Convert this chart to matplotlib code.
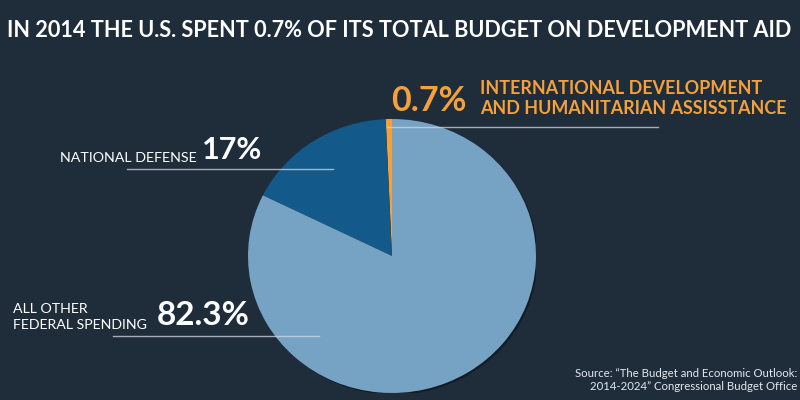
import matplotlib
matplotlib.use("Agg")
import matplotlib.pyplot as plt
from matplotlib.patches import Ellipse

# ---- data ----
categories = ["INTERNATIONAL DEVELOPMENT\nAND HUMANITARIAN ASSISSTANCE",
              "NATIONAL DEFENSE",
              "ALL OTHER\nFEDERAL SPENDING"]
shares = [0.7, 17.0, 82.3]
pct_labels = ["0.7%", "17%", "82.3%"]
title = "IN 2014 THE U.S. SPENT 0.7% OF ITS TOTAL BUDGET ON DEVELOPMENT AID"
source = "Source: \u201cThe Budget and Economic Outlook:\n2014-2024\u201d Congressional Budget Office"

BG = "#1f2d3b"
colors = ["#f5a03a", "#135a8a", "#76a3c4"]
ORANGE = "#f5a03a"
FONT = ["Lato", "DejaVu Sans"]

fig = plt.figure(figsize=(8, 4), dpi=100, facecolor=BG)

# pie axes (slightly elliptical as in reference)
pax = fig.add_axes([248/800, 7/400, 288/800, 274/400])
pax.set_facecolor("none")
pax.add_patch(Ellipse((0.012, -0.012), 2.0, 2.0, facecolor="#131c25",
                      edgecolor="none", zorder=0))
pax.pie(shares, colors=colors, startangle=90, counterclock=True,
        radius=1.0, wedgeprops=dict(linewidth=0, zorder=1))
pax.set_aspect("auto")
pax.set_xlim(-1, 1)
pax.set_ylim(-1, 1)
pax.axis("off")

# overlay axes in pixel coordinates
ax = fig.add_axes([0, 0, 1, 1])
ax.set_facecolor("none")
ax.set_xlim(0, 800)
ax.set_ylim(400, 0)
ax.axis("off")

ax.text(399, 37, title, color="white", fontsize=15.6, fontweight="bold",
        family=FONT, ha="center", va="baseline")

line_kw = dict(color="#d0d7de", alpha=0.75, linewidth=1.0, zorder=5)

# international development
ax.plot([387, 658], [127, 127], **line_kw)
ax.text(391, 111, pct_labels[0], color=ORANGE, fontsize=24.5, fontweight="bold",
        family=FONT, ha="left", va="baseline")
l1, l2 = categories[0].split("\n")
ax.text(480, 94.5, l1, color=ORANGE, fontsize=12.9, fontweight="bold",
        family=FONT, ha="left", va="baseline")
ax.text(480, 113.5, l2, color=ORANGE, fontsize=12.9, fontweight="bold",
        family=FONT, ha="left", va="baseline")

# national defense
ax.plot([127, 333], [169, 169], **line_kw)
ax.text(197, 162, categories[1], color="white", fontsize=10.3,
        family=FONT, ha="right", va="baseline")
ax.text(202, 159, pct_labels[1], color="white", fontsize=22, fontweight="bold",
        family=FONT, ha="left", va="baseline")

# all other
ax.plot([113, 319], [336, 336], **line_kw)
o1, o2 = categories[2].split("\n")
ax.text(13, 313, o1, color="white", fontsize=10.2, family=FONT,
        ha="left", va="baseline")
ax.text(13, 329, o2, color="white", fontsize=10.2, family=FONT,
        ha="left", va="baseline")
ax.text(157, 325, pct_labels[2], color="white", fontsize=24, fontweight="bold",
        family=FONT, ha="left", va="baseline")

# source
ax.text(797, 390, source, color="#e3e8ee", fontsize=8.2, family=FONT,
        ha="right", va="baseline", multialignment="right", linespacing=1.25)

fig.savefig("out.png", dpi=100, facecolor=BG)
